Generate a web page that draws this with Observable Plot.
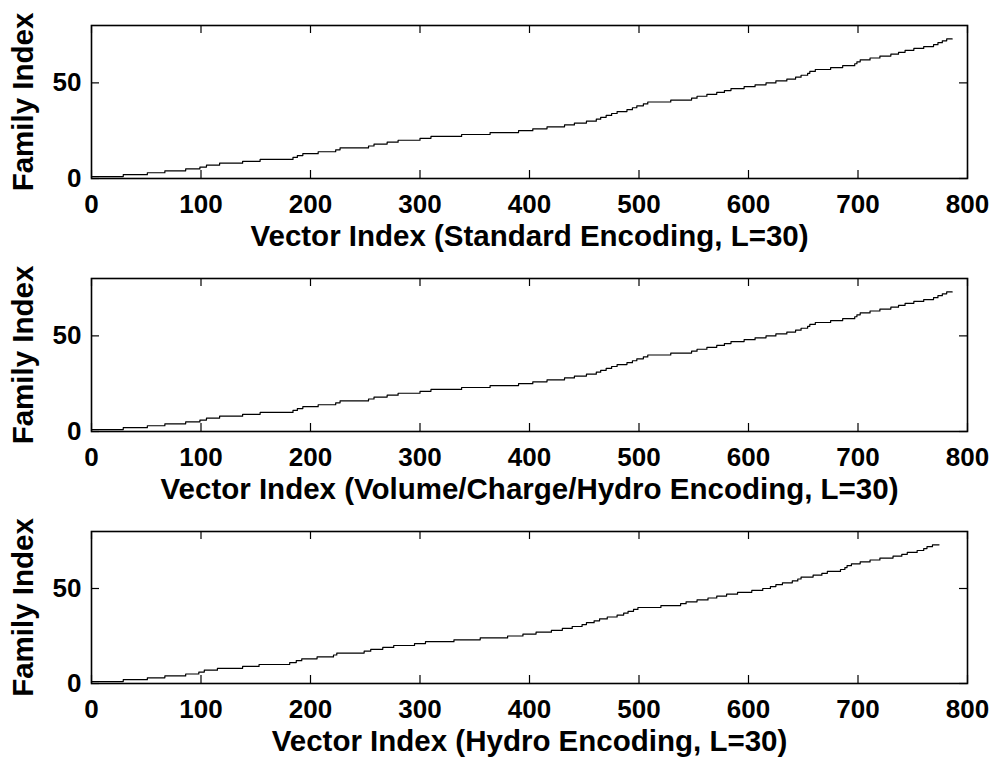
<!DOCTYPE html>
<html>
<head>
<meta charset="utf-8">
<script src="https://cdn.jsdelivr.net/npm/d3@7"></script>
<script src="https://cdn.jsdelivr.net/npm/@observablehq/plot@0.6"></script>
<style>
  html, body { margin: 0; padding: 0; background: #fff; }
  #charts svg { display: block; }
</style>
</head>
<body>
<div id="charts"></div>
<script>
// First vector index of each family (family k starts at starts[k-1]); last vector index closes the staircase.
const standardStarts = [
  0, 29, 51, 67, 86, 99, 105, 117, 138, 154,
  184, 188, 193, 207, 223, 227, 253, 258, 270, 280,
  300, 310, 338, 364, 390, 403, 416, 432, 441, 452,
  461, 465, 470, 475, 480, 489, 494, 498, 504, 508,
  529, 548, 553, 562, 571, 578, 584, 596, 606, 616,
  625, 635, 643, 648, 654, 656, 661, 675, 686, 697,
  699, 702, 711, 720, 730, 737, 743, 751, 760, 769,
  773, 777, 781
];
const standardEnd = 786;

const vchStarts = [
  0, 29, 51, 67, 86, 99, 105, 117, 138, 154,
  184, 188, 193, 207, 223, 227, 253, 258, 270, 280,
  300, 310, 338, 364, 390, 403, 416, 432, 441, 452,
  461, 465, 470, 475, 480, 489, 494, 498, 504, 508,
  529, 548, 553, 562, 571, 578, 584, 596, 606, 616,
  625, 635, 643, 648, 654, 656, 661, 675, 686, 697,
  699, 702, 711, 720, 730, 737, 743, 751, 760, 769,
  773, 777, 781
];
const vchEnd = 786;

const hydroStarts = [
  0, 29, 51, 67, 86, 98, 103, 115, 138, 153,
  181, 187, 192, 206, 221, 224, 249, 255, 266, 276,
  295, 305, 331, 355, 380, 394, 406, 420, 430, 439,
  448, 452, 459, 464, 471, 480, 486, 490, 495, 499,
  520, 538, 543, 553, 563, 571, 580, 590, 603, 613,
  620, 625, 631, 640, 645, 648, 659, 667, 672, 684,
  688, 690, 694, 702, 711, 720, 732, 740, 745, 754,
  760, 763, 768
];
const hydroEnd = 774;

const xTicks = [0, 100, 200, 300, 400, 500, 600, 700, 800];
const yTicks = [0, 50];
const xDomain = [0, 800];
const yDomain = [0, 80];

const panels = [
  {starts: standardStarts, end: standardEnd, label: "Vector Index (Standard Encoding, L=30)"},
  {starts: vchStarts, end: vchEnd, label: "Vector Index (Volume/Charge/Hydro Encoding, L=30)"},
  {starts: hydroStarts, end: hydroEnd, label: "Vector Index (Hydro Encoding, L=30)"}
];

// Staircase points: each family index held from its first vector to the next family's first vector.
function staircase(starts, end) {
  const pts = starts.map((x, i) => ({x, y: i + 1}));
  pts.push({x: end, y: starts.length});
  return pts;
}

const W = 993;
const heights = [253, 253, 252];
const mTop = 25, mBottom = 75, mLeft = 91, mRight = 26;
const tickLen = 8;
const container = document.getElementById("charts");

panels.forEach((p, i) => {
  const H = heights[i];
  const innerH = H - mTop - mBottom;
  const innerW = W - mLeft - mRight;
  const chart = Plot.plot({
    width: W,
    height: H,
    marginTop: mTop,
    marginBottom: mBottom,
    marginLeft: mLeft,
    marginRight: mRight,
    style: {fontFamily: "'Liberation Sans', Arial, Helvetica, sans-serif", fontSize: "26px", fontWeight: "bold", color: "#000", background: "#fff", overflow: "visible"},
    x: {domain: xDomain},
    y: {domain: yDomain},
    marks: [
      Plot.line(staircase(p.starts, p.end), {x: "x", y: "y", curve: "step-after", stroke: "#000", strokeWidth: 1.2}),
      // inward ticks on all four sides
      Plot.tickX(xTicks, {x: d => d, stroke: "#000", strokeWidth: 1.2, insetTop: innerH - tickLen}),
      Plot.tickX(xTicks, {x: d => d, stroke: "#000", strokeWidth: 1.2, insetBottom: innerH - tickLen}),
      Plot.tickY(yTicks, {y: d => d, stroke: "#000", strokeWidth: 1.2, insetRight: innerW - tickLen}),
      Plot.tickY(yTicks, {y: d => d, stroke: "#000", strokeWidth: 1.2, insetLeft: innerW - tickLen}),
      Plot.frame({stroke: "#000", strokeWidth: 1.6}),
      Plot.axisX(xTicks, {tickSize: 0, tickPadding: 16, label: null, fill: "#000"}),
      Plot.axisY(yTicks, {tickSize: 0, tickPadding: 10, label: null, fill: "#000"}),
      Plot.text([p.label], {text: d => d, frameAnchor: "bottom", lineAnchor: "middle", textAnchor: "middle", dy: 58, fontSize: 29.5, fill: "#000"}),
      Plot.text(["Family Index"], {text: d => d, frameAnchor: "left", lineAnchor: "middle", textAnchor: "middle", dx: -68, rotate: -90, fontSize: 29.5, fill: "#000"})
    ]
  });
  container.appendChild(chart);
});
</script>
</body>
</html>
